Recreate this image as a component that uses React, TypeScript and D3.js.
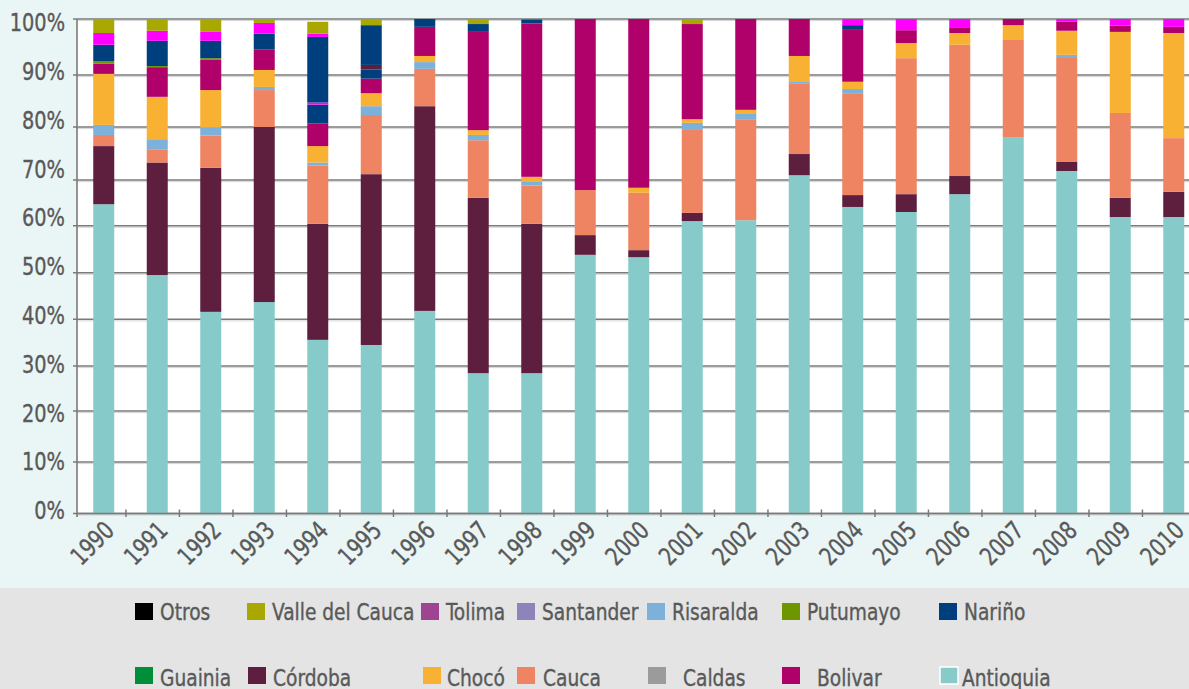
import React, { useEffect } from 'react';
import * as d3 from 'd3';

// ---------- data ----------
const years = ['1990','1991','1992','1993','1994','1995','1996','1997','1998','1999','2000','2001','2002','2003','2004','2005','2006','2007','2008','2009','2010'];

const antioquia   = [64.7, 49.5, 41.6, 43.7, 35.6, 34.5, 41.8, 28.4, 28.4, 53.8, 53.3, 61.0, 61.2, 70.9, 64.1, 63.0, 66.9, 78.1, 71.7, 61.9, 61.9];
const cordoba     = [11.7, 23.8, 30.7, 36.3, 24.8, 36.6, 42.2, 37.7, 32.0, 4.2, 1.5, 1.8, 0, 4.0, 2.6, 3.9, 3.85, 0, 1.7, 4.2, 5.5];
const cauca       = [2.1, 2.5, 6.1, 7.1, 12.3, 11.2, 7.1, 11.4, 8.4, 9.8, 12.4, 16.8, 20.3, 13.4, 19.8, 26.1, 24.65, 18.15, 19.8, 16.6, 10.5];
const risaralda   = [1.9, 1.9, 1.5, 0.6, 0.6, 1.7, 1.2, 1.0, 0.9, 0, 0, 1.2, 1.0, 0.5, 0.8, 0, 0, 0, 0.4, 0, 0];
const choco       = [9.8, 8.1, 7.2, 3.2, 3.1, 2.5, 1.1, 0.9, 0.9, 0, 1.1, 0.7, 0.8, 4.6, 1.4, 2.7, 2.1, 2.65, 4.3, 15.0, 19.6];
const bolivar     = [1.8, 5.6, 5.6, 3.7, 4.3, 2.8, 5.2, 18.3, 28.6, 32.2, 31.7, 17.6, 16.7, 6.6, 9.5, 2.3, 0.9, 1.1, 1.6, 1.1, 1.1];
const putumayo    = [0.5, 0.2, 0.3, 0, 0, 0, 0, 0, 0, 0, 0, 0, 0, 0, 0, 0, 0, 0, 0, 0, 0];
const narino      = [2.9, 4.5, 3.1, 2.8, 3.6, 1.7, 1.4, 1.4, 0.7, 0, 0, 0, 0, 0, 0.7, 0, 0, 0, 0, 0, 0];
const magentaA    = [0, 0, 0, 0, 0.4, 0, 0, 0, 0, 0, 0, 0, 0, 0, 0, 0, 0, 0, 0, 0, 0];
const maroonB     = [0, 0, 0, 0, 0, 0.8, 0, 0, 0, 0, 0, 0, 0, 0, 0, 0, 0, 0, 0, 0, 0];
const navyB       = [0, 0, 0, 0, 12.1, 7.1, 0, 0, 0, 0, 0, 0, 0, 0, 0, 0, 0, 0, 0, 0, 0];
const magentaB    = [2.1, 1.8, 1.6, 1.9, 0.6, 0, 0, 0, 0, 0, 0, 0, 0, 0, 1.1, 2.0, 1.6, 0, 0.5, 1.2, 1.4];
const valle       = [2.5, 2.1, 2.3, 0.7, 2.1, 1.1, 0, 0.9, 0, 0, 0, 0.9, 0, 0, 0, 0, 0, 0, 0, 0, 0];

const seriesKeys = ['Antioquia','Córdoba','Cauca','Risaralda','Chocó','Bolivar','Putumayo','Nariño','serieA','serieB','serieC','serieD','Valle del Cauca'];
const seriesValues = [antioquia, cordoba, cauca, risaralda, choco, bolivar, putumayo, narino, magentaA, maroonB, navyB, magentaB, valle];

const yTicks = [0, 10, 20, 30, 40, 50, 60, 70, 80, 90, 100];
const yTickLabels = ['0%','10%','20%','30%','40%','50%','60%','70%','80%','90%','100%'];

const legendRow1 = ['Otros','Valle del Cauca','Tolima','Santander','Risaralda','Putumayo','Nariño'];
const legendRow2 = ['Guainia','Córdoba','Chocó','Cauca','Caldas','Bolivar','Antioquia'];

// ---------- styles ----------
const colors: Record<string, string> = {
  'Antioquia': '#86CBC9',
  'Córdoba': '#5E1F3F',
  'Cauca': '#EE8462',
  'Risaralda': '#7BB1DB',
  'Chocó': '#F8B133',
  'Bolivar': '#B0006A',
  'Putumayo': '#6D9600',
  'Nariño': '#003F7D',
  'serieA': '#FF00FF',
  'serieB': '#5E1F3F',
  'serieC': '#003F7D',
  'serieD': '#FF00FF',
  'Valle del Cauca': '#A8A800',
  'Otros': '#000000',
  'Tolima': '#9E4490',
  'Santander': '#8E84BA',
  'Guainia': '#008F39',
  'Caldas': '#9B9B9B',
};

const FONT = "'DejaVu Sans Condensed', 'Liberation Sans Narrow', 'DejaVu Sans', sans-serif";
const TEXT = '#595959';

const W = 1189, H = 689;
const left = 77, top = 19, bottom = 514;
const gridY = [513.5, 462, 411, 366, 319.3, 272.7, 225.7, 180, 127, 75, 19];

export default function App() {
  useEffect(() => { document.body.style.margin = '0'; }, []);

  const rows = years.map((yr, i) => {
    const r: Record<string, any> = { year: yr };
    seriesKeys.forEach((k, j) => { r[k] = seriesValues[j][i]; });
    return r;
  });
  const stacked = d3.stack<any>().keys(seriesKeys)(rows);

  const x = d3.scaleBand<string>().domain(years).range([left, left + 53.5 * years.length])
    .paddingInner(0.6075).paddingOuter(0.30375);
  const y = d3.scaleLinear().domain(yTicks).range(gridY);
  const yLabel = d3.scaleLinear().domain([0, 100]).range([510, 22]);

  const bw = x.bandwidth();
  const gap = x.step() - bw;

  const legendX1 = [135, 247, 421, 517, 647, 782, 939];
  const legendX2 = [135, 248, 423, 517, 648, 782, 940];
  const textOff2 = [25, 25, 24, 26, 35, 35, 22];

  const txtProps = { fill: TEXT, stroke: TEXT, strokeWidth: 0.35 };

  return (
    <svg width={W} height={H} style={{ position: 'absolute', left: 0, top: 0, display: 'block' }} fontFamily={FONT}>
      <rect x={0} y={0} width={W} height={588} fill="#EAF5F5" />
      <rect x={0} y={588} width={W} height={H - 588} fill="#E3E4E3" />
      <rect x={left} y={top} width={W - left} height={bottom - top} fill="#FFFFFF" />

      {/* gridlines */}
      {yTicks.map((t) => (
        <g key={'g' + t}>
          <line x1={left} x2={W} y1={y(t) + 1.6} y2={y(t) + 1.6} stroke="#D6D6D6" strokeWidth={1} />
          <line x1={left - 4} x2={W} y1={y(t)} y2={y(t)} stroke="#7A7A7A" strokeWidth={1.6} />
        </g>
      ))}

      {/* bars */}
      {stacked.map((s) => (
        <g key={s.key} fill={colors[s.key]}>
          {s.map((d, i) => {
            const h = y(d[0]) - y(d[1]);
            if (h <= 0) return null;
            return <rect key={i} x={x(years[i])} y={y(d[1])} width={bw} height={h} />;
          })}
        </g>
      ))}

      {/* axes */}
      <line x1={left} x2={left} y1={top} y2={bottom + 3} stroke="#7A7A7A" strokeWidth={1.6} />
      <line x1={left} x2={W} y1={y(0)} y2={y(0)} stroke="#7A7A7A" strokeWidth={1.6} />
      {years.map((yr) => {
        const tx = (x(yr) as number) + bw + gap * 0.36;
        return <line key={'t' + yr} x1={tx} x2={tx} y1={y(0) - 4} y2={y(0) + 3.5} stroke="#7A7A7A" strokeWidth={1.5} />;
      })}

      {/* y labels */}
      {yTicks.map((t, i) => (
        <text key={'yl' + t} transform={`translate(65,${yLabel(t)}) scale(0.86,1)`} textAnchor="end"
          dominantBaseline="central" fontSize={25} {...txtProps}>{yTickLabels[i]}</text>
      ))}

      {/* x labels */}
      {years.map((yr) => {
        const cx = (x(yr) as number) + bw / 2;
        return (
          <text key={'xl' + yr} transform={`translate(${cx + 12},${532}) rotate(-45) scale(0.86,1)`} textAnchor="end"
            fontSize={25} {...txtProps}>{yr}</text>
        );
      })}

      {/* legend */}
      {legendRow1.map((name, i) => (
        <g key={'l1' + name}>
          <rect x={legendX1[i]} y={603} width={18} height={17} fill={colors[name]} />
          <text transform={`translate(${legendX1[i] + 25},${612}) scale(0.9,1)`} dominantBaseline="central"
            fontSize={23} {...txtProps}>{name}</text>
        </g>
      ))}
      {legendRow2.map((name, i) => (
        <g key={'l2' + name}>
          <rect x={legendX2[i]} y={667} width={18} height={17} fill={colors[name]}
            stroke={name === 'Antioquia' ? '#FFFFFF' : 'none'} strokeWidth={1.5} />
          <text transform={`translate(${legendX2[i] + textOff2[i]},${678}) scale(0.9,1)`} dominantBaseline="central"
            fontSize={23} {...txtProps}>{name}</text>
        </g>
      ))}
    </svg>
  );
}
